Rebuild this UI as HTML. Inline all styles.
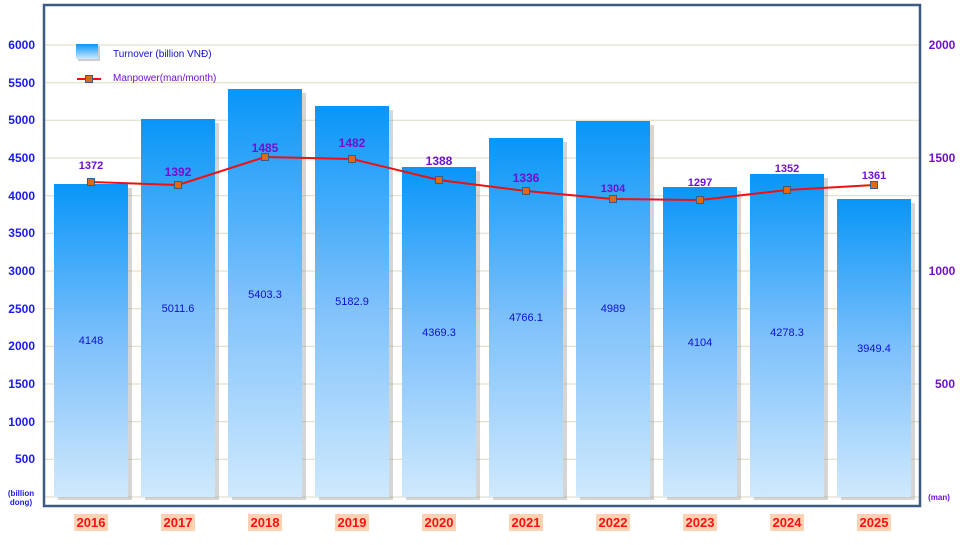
<!DOCTYPE html>
<html><head><meta charset="utf-8"><style>
body{margin:0;background:#fff;}
svg text{font-family:"Liberation Sans",sans-serif;}
</style></head><body>
<svg width="960" height="540" xmlns="http://www.w3.org/2000/svg">
<defs>
<linearGradient id="g" x1="0" y1="0" x2="0" y2="1">
<stop offset="0" stop-color="#0896f8"/>
<stop offset="0.5" stop-color="#7cc0fb"/>
<stop offset="1" stop-color="#cfe9fd"/>
</linearGradient>
<linearGradient id="lg" x1="0" y1="0" x2="0" y2="1">
<stop offset="0" stop-color="#0896f8"/>
<stop offset="1" stop-color="#cfe9fd"/>
</linearGradient>
</defs>
<rect x="0" y="0" width="960" height="540" fill="#fff"/>
<g stroke="#ddd8c0" stroke-width="1">
<line x1="44" x2="920" y1="45" y2="45"/><line x1="44" x2="920" y1="82.7" y2="82.7"/>
<line x1="44" x2="920" y1="120.3" y2="120.3"/><line x1="44" x2="920" y1="158" y2="158"/>
<line x1="44" x2="920" y1="195.7" y2="195.7"/><line x1="44" x2="920" y1="233.3" y2="233.3"/>
<line x1="44" x2="920" y1="271" y2="271"/><line x1="44" x2="920" y1="308.7" y2="308.7"/>
<line x1="44" x2="920" y1="346.3" y2="346.3"/><line x1="44" x2="920" y1="384" y2="384"/>
<line x1="44" x2="920" y1="421.7" y2="421.7"/><line x1="44" x2="920" y1="459.3" y2="459.3"/>
<line x1="44" x2="920" y1="497" y2="497"/>
</g>
<g fill="#999" opacity="0.4">
<rect x="58" y="188" width="74" height="312"/><rect x="145" y="123" width="74" height="377"/>
<rect x="232" y="93" width="74" height="407"/><rect x="319" y="110" width="74" height="390"/>
<rect x="406" y="171" width="74" height="329"/><rect x="493" y="142" width="74" height="358"/>
<rect x="580" y="125" width="74" height="375"/><rect x="667" y="191" width="74" height="309"/>
<rect x="754" y="178" width="74" height="322"/><rect x="841" y="203" width="74" height="297"/>
</g>
<g fill="url(#g)">
<rect x="54" y="184" width="74" height="313"/><rect x="141" y="119" width="74" height="378"/>
<rect x="228" y="89" width="74" height="408"/><rect x="315" y="106" width="74" height="391"/>
<rect x="402" y="167" width="74" height="330"/><rect x="489" y="138" width="74" height="359"/>
<rect x="576" y="121" width="74" height="376"/><rect x="663" y="187" width="74" height="310"/>
<rect x="750" y="174" width="74" height="323"/><rect x="837" y="199" width="74" height="298"/>
</g>
<rect x="44" y="5" width="876" height="501" fill="none" stroke="#3d5a85" stroke-width="2.5"/>
<g font-size="11" fill="#1010d0" text-anchor="middle">
<text x="91" y="344">4148</text><text x="178" y="312">5011.6</text><text x="265" y="298">5403.3</text>
<text x="352" y="305">5182.9</text><text x="439" y="336">4369.3</text><text x="526" y="321">4766.1</text>
<text x="613" y="312">4989</text><text x="700" y="346">4104</text><text x="787" y="336">4278.3</text>
<text x="874" y="352">3949.4</text>
</g>
<polyline points="91,182 178,185 265,157 352,159 439,180 526,191 613,199 700,200 787,190 874,185" fill="none" stroke="#f01010" stroke-width="2"/>
<g fill="#e06a10" stroke="#3d5a85" stroke-width="1">
<rect x="87.5" y="178.5" width="7" height="7"/><rect x="174.5" y="181.5" width="7" height="7"/>
<rect x="261.5" y="153.5" width="7" height="7"/><rect x="348.5" y="155.5" width="7" height="7"/>
<rect x="435.5" y="176.5" width="7" height="7"/><rect x="522.5" y="187.5" width="7" height="7"/>
<rect x="609.5" y="195.5" width="7" height="7"/><rect x="696.5" y="196.5" width="7" height="7"/>
<rect x="783.5" y="186.5" width="7" height="7"/><rect x="870.5" y="181.5" width="7" height="7"/>
</g>
<g font-size="12" font-weight="bold" fill="#7010d0" text-anchor="middle">
<text x="91" y="169" font-size="11">1372</text><text x="178" y="176">1392</text><text x="265" y="152">1485</text>
<text x="352" y="147">1482</text><text x="439" y="165">1388</text><text x="526" y="182">1336</text>
<text x="613" y="192" font-size="11">1304</text><text x="700" y="186" font-size="11">1297</text><text x="787" y="172" font-size="11">1352</text>
<text x="874" y="179" font-size="11">1361</text>
</g>
<g font-size="12" font-weight="bold" fill="#1a1aee" text-anchor="end">
<text x="35" y="49">6000</text><text x="35" y="87">5500</text><text x="35" y="124">5000</text>
<text x="35" y="162">4500</text><text x="35" y="200">4000</text><text x="35" y="237">3500</text>
<text x="35" y="275">3000</text><text x="35" y="313">2500</text><text x="35" y="350">2000</text>
<text x="35" y="388">1500</text><text x="35" y="426">1000</text><text x="35" y="463">500</text>
</g>
<text x="21" y="496" font-size="8" font-weight="bold" fill="#1a1aee" text-anchor="middle">(billion</text>
<text x="21" y="505" font-size="8" font-weight="bold" fill="#1a1aee" text-anchor="middle">dong)</text>
<g font-size="12" font-weight="bold" fill="#7010d0" text-anchor="middle">
<text x="942" y="49">2000</text><text x="942" y="162">1500</text><text x="942" y="275">1000</text><text x="945" y="388">500</text>
</g>
<text x="939" y="500" font-size="8" font-weight="bold" fill="#7010d0" text-anchor="middle">(man)</text>
<g font-size="13" font-weight="bold" fill="#ff1010" text-anchor="middle">
<rect x="74" y="514" width="34" height="17" fill="#fbd3b3"/><text x="91" y="527">2016</text>
<rect x="161" y="514" width="34" height="17" fill="#fbd3b3"/><text x="178" y="527">2017</text>
<rect x="248" y="514" width="34" height="17" fill="#fbd3b3"/><text x="265" y="527">2018</text>
<rect x="335" y="514" width="34" height="17" fill="#fbd3b3"/><text x="352" y="527">2019</text>
<rect x="422" y="514" width="34" height="17" fill="#fbd3b3"/><text x="439" y="527">2020</text>
<rect x="509" y="514" width="34" height="17" fill="#fbd3b3"/><text x="526" y="527">2021</text>
<rect x="596" y="514" width="34" height="17" fill="#fbd3b3"/><text x="613" y="527">2022</text>
<rect x="683" y="514" width="34" height="17" fill="#fbd3b3"/><text x="700" y="527">2023</text>
<rect x="770" y="514" width="34" height="17" fill="#fbd3b3"/><text x="787" y="527">2024</text>
<rect x="857" y="514" width="34" height="17" fill="#fbd3b3"/><text x="874" y="527">2025</text>
</g>
<rect x="78" y="46" width="22" height="15" fill="#999" opacity="0.5"/>
<rect x="76" y="44" width="22" height="15" fill="url(#lg)"/>
<text x="113" y="57" font-size="10" fill="#1010d0">Turnover (billion VNĐ)</text>
<line x1="77" x2="101" y1="79" y2="79" stroke="#f01010" stroke-width="2"/>
<rect x="85.5" y="75.5" width="7" height="7" fill="#e06a10" stroke="#3d5a85"/>
<text x="113" y="81" font-size="10" fill="#7010d0">Manpower(man/month)</text>
</svg>
</body></html>
